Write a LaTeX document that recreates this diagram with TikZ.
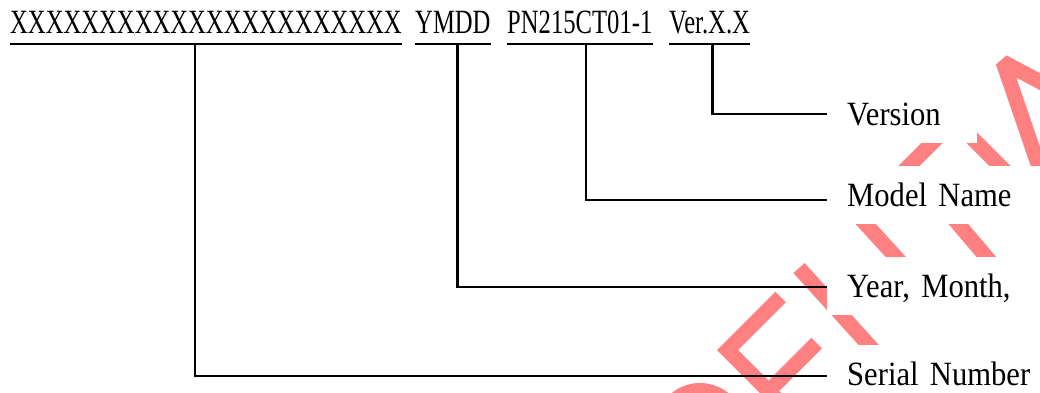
\documentclass[tikz,border=0pt]{standalone}
\usepackage{fontspec}
\setmainfont{Liberation Serif}
\newfontfamily\codefont[FakeStretch=0.725]{Liberation Serif}
\newfontfamily\labelfont[FakeStretch=0.9]{Liberation Serif}
\newcommand\labelsetup{\labelfont\fontsize{34pt}{40pt}\selectfont\spaceskip 7pt\relax}
\usepackage{xcolor}
\usepackage{tikz}
\definecolor{stamp}{RGB}{255,128,128}

\begin{document}
\begin{tikzpicture}[
    x=1pt, y=-1pt,
    field/.style={anchor=base west, inner xsep=0pt, inner ysep=11pt, text depth=0pt,
      font=\codefont\fontsize{34pt}{40pt}\selectfont},
    lbl/.style={anchor=west, fill=white, inner xsep=20pt, inner ysep=0pt, align=left,
      text height=22.5pt, text depth=0pt, minimum height=58pt, font=\labelsetup},
    rule/.style={line width=2.5pt},
    conn/.style={line width=2.5pt},
    stampline/.style={draw=stamp, line width=15pt, line cap=butt, line join=miter},
  ]
    \useasboundingbox (0,0) rectangle (1040,392);
    \clip (0,0) rectangle (1040,392);
    % watermark pieces
    \draw[stampline] (780.6,297) -- (727.6,350) -- (833.6,456);
    \draw[stampline] (768.6,391) -- (816.7,343);
    \draw[stampline] (700,428) circle[radius=37.5];
    \draw[stampline] (799,268) -- (895,374);
    \draw[stampline] (852,209) -- (935,300);
    \draw[stampline] (962,113) -- (909,166) -- (1000,273);
    \draw[stampline] (949,115) -- (1029,195);
    \draw[stampline, line join=bevel] (1050,87) -- (1003,62) -- (1040,170);
    % code string
    \node[field] (serialcode) at (10,33) {XXXXXXXXXXXXXXXXXXXXXX};
    \node[field] (datecode) at (415,33) {YMDD};
    \node[field] (modelcode) at (507,33) {PN215CT01-1};
    \node[field] (vercode) at (669,33) {Ver.X.X};
    \foreach \f in {serialcode,datecode,modelcode,vercode}
      \draw[rule] (\f.south west) -- (\f.south east);
    % labels
    \node[lbl, text width=110pt] (verlbl) at (827,113.75) {Version};
    \node[lbl, text width=190pt] (modellbl) at (827,195) {Model Name};
    \node[lbl, text width=190pt] (yearlbl) at (827,285.75) {Year, Month,};
    \node[lbl, text width=190pt] (seriallbl) at (827,373.75) {Serial Number};
    \draw[conn] ([xshift=3pt]vercode.south) |- (verlbl.west);
    \draw[conn] ([xshift=6pt]modelcode.south) |- ([yshift=-5pt]modellbl.west);
    \draw[conn] ([xshift=4.5pt]datecode.south) |- ([yshift=-1pt]yearlbl.west);
    \draw[conn] ([xshift=-11pt]serialcode.south) |- ([yshift=-2pt]seriallbl.west);
\end{tikzpicture}
\end{document}
